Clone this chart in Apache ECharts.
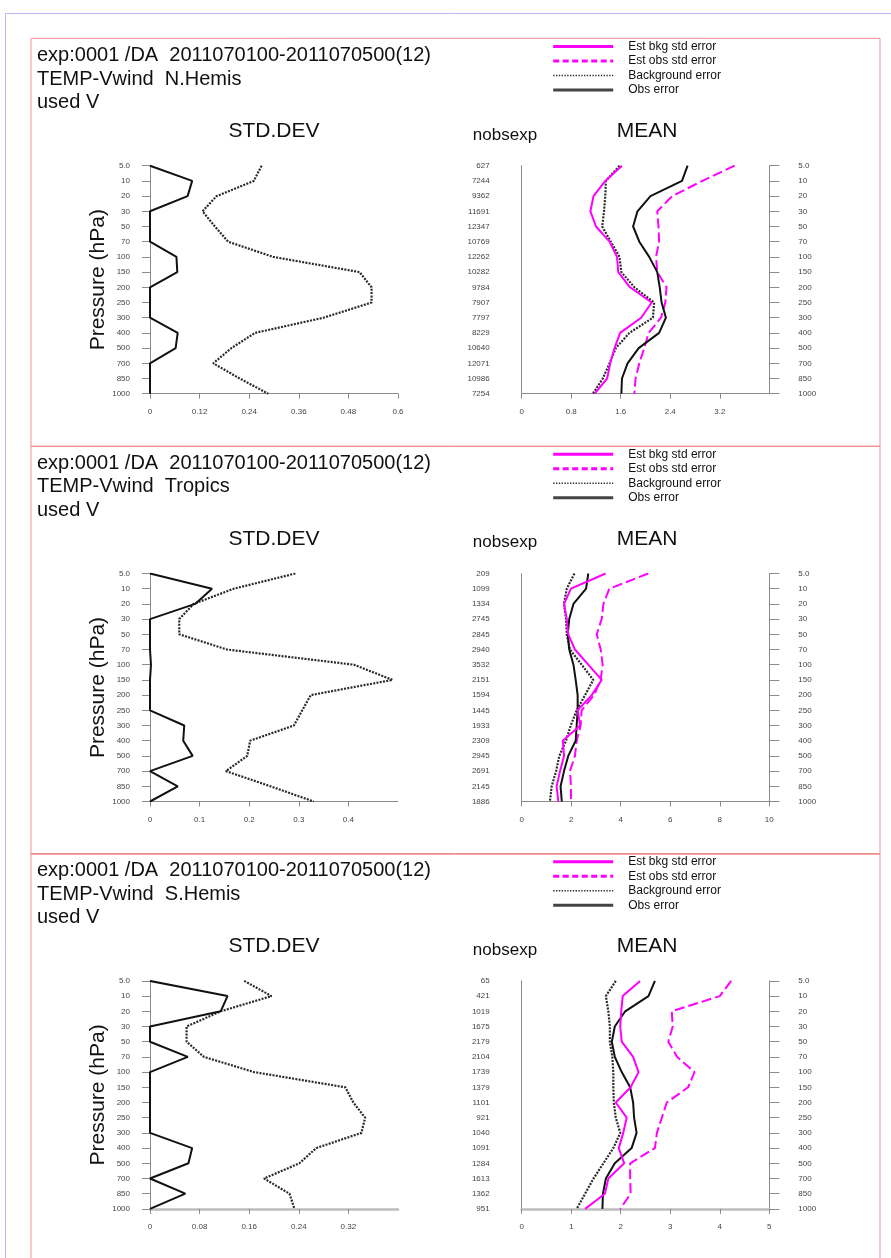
<!DOCTYPE html>
<html><head><meta charset="utf-8">
<script src="https://cdn.jsdelivr.net/npm/echarts@6/dist/echarts.min.js"></script>
<style>html,body{margin:0;padding:0;background:#fff}#c{width:891px;height:1258px}</style>
</head><body><div id="c"></div>
<script>
// ---------- DATA ----------
const levels = ['5.0','10','20','30','50','70','100','150','200','250','300','400','500','700','850','1000'];
const regions = ['N.Hemis','Tropics','S.Hemis'];

// N.Hemis
const nh_nobs       = [627,7244,9362,11691,12347,10769,12262,10282,9784,7907,7797,8229,10640,12071,10986,7254];
const nh_sd_obs     = [0,0.102,0.091,0,0,0,0.064,0.066,0,0,0,0.067,0.062,0,0,0];
const nh_sd_bg      = [0.270,0.251,0.161,0.127,0.157,0.189,0.298,0.507,0.536,0.536,0.420,0.254,0.197,0.153,0.217,0.286];
const nh_mean_bkg   = [1.62,1.35,1.16,1.11,1.20,1.42,1.54,1.56,1.75,2.10,1.93,1.59,1.50,1.43,1.38,1.18];
const nh_mean_estobs= [3.44,2.92,2.43,2.19,2.21,2.22,2.17,2.19,2.34,2.32,2.25,2.05,1.98,1.90,1.84,1.82];
const nh_mean_bg    = [1.58,1.36,1.35,1.33,1.30,1.44,1.58,1.61,1.82,2.14,2.12,1.74,1.52,1.42,1.31,1.15];
const nh_mean_obs   = [2.68,2.59,2.08,1.87,1.80,1.90,2.06,2.19,2.23,2.26,2.33,2.22,1.89,1.71,1.62,1.61];

// Tropics
const tr_nobs       = [209,1099,1334,2745,2845,2940,3532,2151,1594,1445,1933,2309,2945,2691,2145,1886];
const tr_sd_obs     = [0,0.125,0.091,0,0,0,0.002,0,0,0,0.069,0.067,0.086,0,0.056,0];
const tr_sd_bg      = [0.293,0.169,0.088,0.059,0.059,0.155,0.411,0.489,0.324,0.307,0.290,0.202,0.196,0.153,0.243,0.330];
const tr_mean_bkg   = [3.39,1.99,1.71,1.82,1.88,2.15,2.69,3.23,2.83,2.26,2.36,1.66,1.71,1.55,1.41,1.48];
const tr_mean_estobs= [5.11,3.54,3.30,3.23,3.03,3.19,3.27,3.19,2.92,2.42,2.38,2.22,2.15,1.95,1.99,1.99];
const tr_mean_bg    = [2.13,1.82,1.71,1.79,1.82,1.95,2.42,2.89,2.56,2.22,1.98,1.79,1.52,1.39,1.21,1.14];
const tr_mean_obs   = [2.69,2.60,2.09,1.92,1.86,1.92,2.09,2.18,2.26,2.26,2.22,2.18,1.88,1.71,1.57,1.62];

// S.Hemis
const sh_nobs       = [65,421,1019,1675,2179,2104,1739,1379,1101,921,1040,1091,1284,1613,1362,951];
const sh_sd_obs     = [0,0.125,0.114,0,0,0.061,0,0,0,0,0,0.068,0.062,0,0.057,0];
const sh_sd_bg      = [0.152,0.196,0.114,0.059,0.059,0.087,0.168,0.315,0.328,0.347,0.341,0.268,0.241,0.184,0.225,0.233];
const sh_mean_bkg   = [2.39,2.04,2.01,1.99,2.02,2.25,2.36,2.20,1.90,2.12,2.05,1.96,2.07,1.75,1.68,1.28];
const sh_mean_estobs= [4.23,4.00,3.03,3.05,2.96,3.14,3.49,3.36,2.93,2.83,2.73,2.69,2.19,2.19,2.20,1.99];
const sh_mean_bg    = [1.90,1.70,1.75,1.78,1.78,1.83,1.85,1.85,1.86,1.90,1.99,1.85,1.65,1.45,1.28,1.11];
const sh_mean_obs   = [2.69,2.56,2.09,1.88,1.82,1.88,2.02,2.19,2.25,2.27,2.32,2.22,1.88,1.70,1.64,1.63];

// axis ranges
const sdMax  = [0.6, 0.5, 0.4];
const sdInt  = [0.12, 0.1, 0.08];
const sdShowMax = [true, false, false];
const mMax   = [4, 10, 5];
const mInt   = [0.8, 2, 1];
const mShowMax = [false, true, true];

const titleLine1 = 'exp:0001 /DA  2011070100-2011070500(12)';
const titleLine3 = 'used V';
const legendNames = ['Est bkg std error','Est obs std error','Background error','Obs error'];

// ---------- BUILD ----------
const panels = [
  {nobs:nh_nobs, sdObs:nh_sd_obs, sdBg:nh_sd_bg, mBkg:nh_mean_bkg, mEst:nh_mean_estobs, mBg:nh_mean_bg, mObs:nh_mean_obs},
  {nobs:tr_nobs, sdObs:tr_sd_obs, sdBg:tr_sd_bg, mBkg:tr_mean_bkg, mEst:tr_mean_estobs, mBg:tr_mean_bg, mObs:tr_mean_obs},
  {nobs:sh_nobs, sdObs:sh_sd_obs, sdBg:sh_sd_bg, mBkg:sh_mean_bkg, mEst:sh_mean_estobs, mBg:sh_mean_bg, mObs:sh_mean_obs}
];
const FONT = '"Liberation Sans", Arial, sans-serif';
const offs = [0, 407.8, 815.2];
const axisC = '#8a8a8a';
const lblC = '#444';
const MAG = '#ff00ff';

const styles = {
  'Est bkg std error': {color: MAG, width: 2, type: 'solid'},
  'Est obs std error': {color: MAG, width: 2, type: [10, 4]},
  'Background error':  {color: '#2a2a2a', width: 2.2, type: [2, 1.3]},
  'Obs error':         {color: '#111', width: 2, type: 'solid'}
};

const grid = [], xAxis = [], yAxis = [], series = [], legend = [], graphic = [];

graphic.push({type:'rect', silent:true, z:-1, shape:{x:5.5, y:13.5, width:905, height:1300},
  style:{fill:'none', stroke:'#b9b9f4', lineWidth:1}});

function mkSeries(name, vals, xi, yi) {
  const s = styles[name];
  series.push({
    type:'line', name, xAxisIndex:xi, yAxisIndex:yi, symbol:'none', clip:false, animation:false,
    data: vals.map((v, k) => [v, k]),
    itemStyle:{color:s.color},
    lineStyle:{color:s.color, width:s.width, type:s.type}
  });
}

const hidden = {color:'rgba(0,0,0,0)', borderColor:'rgba(0,0,0,0)', borderWidth:0, opacity:0};

panels.forEach((p, i) => {
  const off = offs[i];
  const top = 165.7 + off;
  const bottomAxisW = i === 2 ? 2.5 : 1;
  const bottomAxisC = i === 2 ? '#bdbdbd' : axisC;
  grid.push({left:150, top, width:248, height:228});
  grid.push({left:521.7, top, width:247.6, height:228});

  const xBase = (gi, max, interval, showMax) => ({
    type:'value', gridIndex:gi, min:0, max, interval,
    axisLine:{show:true, onZero:false, lineStyle:{color:bottomAxisC, width:bottomAxisW}},
    axisTick:{show:true, length:5, lineStyle:{color:axisC}},
    axisLabel:{fontSize:8, color:lblC, margin:14, fontFamily:FONT, showMaxLabel:showMax, showMinLabel:true},
    splitLine:{show:false}
  });
  xAxis.push(xBase(2*i, sdMax[i], sdInt[i], sdShowMax[i]));
  xAxis.push(xBase(2*i+1, mMax[i], mInt[i], mShowMax[i]));

  const catBase = (gi, data, position) => ({
    type:'category', gridIndex:gi, data, inverse:true, boundaryGap:false, position,
    axisLine:{show:true, onZero:false, lineStyle:{color:axisC}},
    axisLabel:{interval:0, fontSize:8, color:lblC, fontFamily:FONT},
    axisTick:{interval:0},
    splitLine:{show:false}
  });
  const yL = catBase(2*i, levels, 'left');
  yL.axisTick = {show:true, interval:0, length:8, lineStyle:{color:axisC}};
  yL.axisLabel.margin = 20;
  yL.name = 'Pressure (hPa)';
  yL.nameLocation = 'middle';
  yL.nameGap = 38;
  yL.nameTextStyle = {fontSize:21, color:'#111', fontFamily:FONT};
  yAxis.push(yL);

  const yN = catBase(2*i+1, p.nobs.map(String), 'left');
  yN.axisTick = {show:false};
  yN.axisLabel.margin = 32;
  yAxis.push(yN);

  const yR = catBase(2*i+1, levels, 'right');
  yR.axisTick = {show:true, interval:0, length:10, lineStyle:{color:axisC}};
  yR.axisLabel.margin = 29;
  yAxis.push(yR);

  // STD.DEV plot
  mkSeries('Background error', p.sdBg, 2*i, 3*i);
  mkSeries('Obs error', p.sdObs, 2*i, 3*i);
  // MEAN plot
  mkSeries('Est obs std error', p.mEst, 2*i+1, 3*i+2);
  mkSeries('Background error', p.mBg, 2*i+1, 3*i+2);
  mkSeries('Obs error', p.mObs, 2*i+1, 3*i+2);
  mkSeries('Est bkg std error', p.mBkg, 2*i+1, 3*i+2);

  legend.push({
    orient:'vertical', left:551.7, top:40.5 + off, itemWidth:60, itemHeight:12, itemGap:2.5,
    selectedMode:false, padding:0,
    itemStyle: hidden,
    textStyle:{fontSize:12, color:'#111', fontFamily:FONT, padding:[0,0,0,10]},
    data:[
      {name:'Est bkg std error', itemStyle:hidden, lineStyle:{width:3}},
      {name:'Est obs std error', itemStyle:hidden, lineStyle:{width:3, type:[6,3.5]}},
      {name:'Background error', itemStyle:hidden, lineStyle:{width:1.6, type:[1.4,1.4], color:'#333'}},
      {name:'Obs error', itemStyle:hidden, lineStyle:{width:3, color:'#444'}}
    ]
  });

  // panel border
  graphic.push({type:'rect', silent:true, z:-1,
    shape:{x:31, y:38.3 + off, width:849, height: i === 2 ? 500 : 408.2},
    style:{fill:'none', stroke:'#f29090', lineWidth:1}});

  const txt = (x, y, text, size, align) => ({
    type:'text', x, y, silent:true,
    style:{text, fontSize:size, fontFamily:FONT, fill:'#111', align:align || 'left', verticalAlign:'middle'}
  });
  graphic.push(txt(37, 55.5 + off, titleLine1, 20));
  graphic.push(txt(37, 79 + off, 'TEMP-Vwind  ' + regions[i], 20));
  graphic.push(txt(37, 102.5 + off, titleLine3, 20));
  graphic.push(txt(274, 131 + off, 'STD.DEV', 21, 'center'));
  graphic.push(txt(505, 135 + off, 'nobsexp', 17, 'center'));
  graphic.push(txt(647, 131 + off, 'MEAN', 21, 'center'));
});

const chart = echarts.init(document.getElementById('c'), null, {renderer:'canvas'});
chart.setOption({
  animation:false,
  backgroundColor:'#fff',
  grid, xAxis, yAxis, series, legend, graphic
});
</script></body></html>
